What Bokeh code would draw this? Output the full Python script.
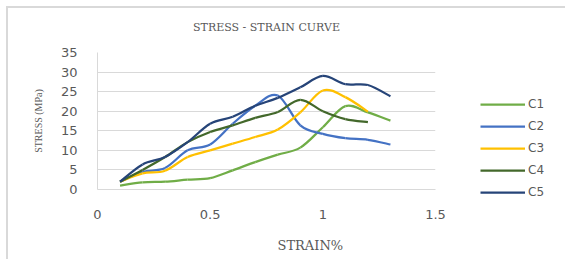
from bokeh.plotting import figure
from bokeh.models import FixedTicker, NumeralTickFormatter, Title, ColumnDataSource, Range1d, Legend
from bokeh.embed import file_html
from bokeh.resources import INLINE

# ---- data ----
strain = [0.1, 0.2, 0.3, 0.4, 0.5, 0.6, 0.7, 0.8, 0.9, 1.0, 1.1, 1.2, 1.3]
c1 = [1.0, 1.8, 2.0, 2.5, 2.9, 4.9, 7.0, 8.9, 10.7, 15.9, 21.3, 19.7, 17.6]
c2 = [2.0, 4.5, 5.5, 10.0, 11.5, 16.8, 21.4, 24.0, 16.4, 14.2, 13.1, 12.7, 11.5]
c3 = [2.0, 4.1, 4.8, 8.3, 10.0, 11.7, 13.4, 15.3, 19.7, 25.3, 23.6, 19.9]
c4 = [2.0, 5.0, 8.3, 12.1, 14.7, 16.4, 18.3, 19.8, 22.9, 20.0, 18.0, 17.2]
c5 = [2.0, 6.4, 8.3, 12.1, 16.8, 18.6, 21.4, 23.4, 26.1, 29.0, 26.9, 26.7, 23.8]
series_names = ["C1", "C2", "C3", "C4", "C5"]
series_values = [c1, c2, c3, c4, c5]
series_colors = ["#70AD47", "#4472C4", "#FFC000", "#43682B", "#264478"]
x_ticks = [0, 0.5, 1, 1.5]
y_ticks = [0, 5, 10, 15, 20, 25, 30, 35]

GRAY = "#595959"
GRID = "#d9d9d9"


def smooth_segments(xs, ys):
    """Bezier segments through the data points (Excel-style smoothed line)."""
    n = len(xs)
    d = dict(x0=[], y0=[], x1=[], y1=[], cx0=[], cy0=[], cx1=[], cy1=[])
    for i in range(n - 1):
        ip = max(i - 1, 0)
        inn = min(i + 2, n - 1)
        d["x0"].append(xs[i]); d["y0"].append(ys[i])
        d["x1"].append(xs[i + 1]); d["y1"].append(ys[i + 1])
        d["cx0"].append(xs[i] + (xs[i + 1] - xs[ip]) / 6.0)
        d["cy0"].append(ys[i] + (ys[i + 1] - ys[ip]) / 6.0)
        d["cx1"].append(xs[i + 1] - (xs[inn] - xs[i]) / 6.0)
        d["cy1"].append(ys[i + 1] - (ys[inn] - ys[i]) / 6.0)
    return d


p = figure(width=565, height=259, frame_width=338, frame_height=137,
           output_backend="svg", toolbar_location=None,
           x_range=Range1d(0, 1.5), y_range=Range1d(0, 35),
           min_border_left=97, min_border_right=130, min_border_top=52, min_border_bottom=70,
           title="STRESS - STRAIN CURVE")
p.styles = {"background": "linear-gradient(#d9d9d9,#d9d9d9) 6px 6px / 2px 100% no-repeat, "
                          "linear-gradient(#d9d9d9,#d9d9d9) 6px 6px / 100% 2px no-repeat, white"}

p.title.align = "center"
p.title.text_font = "DejaVu Serif"
p.title.text_font_size = "11px"
p.title.text_font_style = "normal"
p.title.text_color = GRAY
p.title.standoff = 37

p.outline_line_color = None
p.background_fill_color = "white"
p.border_fill_color = None

p.xgrid.grid_line_color = None
p.ygrid.grid_line_color = GRID
p.ygrid.grid_line_width = 1

p.xaxis.ticker = FixedTicker(ticks=x_ticks)
p.yaxis.ticker = FixedTicker(ticks=y_ticks)
p.xaxis.formatter = NumeralTickFormatter(format="0.[0]")
for ax in (p.xaxis[0], p.yaxis[0]):
    ax.axis_line_color = GRID
    ax.major_tick_line_color = None
    ax.minor_tick_line_color = None
    ax.major_label_text_font = "DejaVu Sans"
    ax.major_label_text_font_size = "13px"
    ax.major_label_text_color = GRAY
    ax.major_label_standoff = 14

p.yaxis.axis_label = "STRESS (MPa)"
p.yaxis.axis_label_text_font = "Liberation Sans Narrow"
p.yaxis.axis_label_text_font_size = "10px"
p.yaxis.axis_label_text_font_style = "normal"
p.yaxis.axis_label_text_color = GRAY
p.yaxis.axis_label_standoff = 14

items = []
for name, vals, col in zip(series_names, series_values, series_colors):
    src = ColumnDataSource(smooth_segments(strain[:len(vals)], vals))
    r = p.bezier(x0="x0", y0="y0", x1="x1", y1="y1", cx0="cx0", cy0="cy0", cx1="cx1", cy1="cy1",
                 source=src, line_color=col, line_width=2.25)
    items.append((name, [r]))

xlab = Title(text="STRAIN%", align="left", offset=180, text_font="DejaVu Serif",
             text_font_size="13px", text_font_style="normal", text_color=GRAY, standoff=28)
p.add_layout(xlab, "below")

lg = Legend(items=items, location="top_left")
lg.border_line_color = None
lg.background_fill_alpha = 0
lg.padding = 0
lg.margin = 45
lg.spacing = 8
lg.glyph_width = 45
lg.glyph_height = 14
lg.label_height = 14
lg.label_standoff = 3
lg.label_text_font = "DejaVu Sans"
lg.label_text_font_size = "12px"
lg.label_text_color = GRAY
p.add_layout(lg, "right")

open("out.html", "w").write(file_html(p, INLINE))
